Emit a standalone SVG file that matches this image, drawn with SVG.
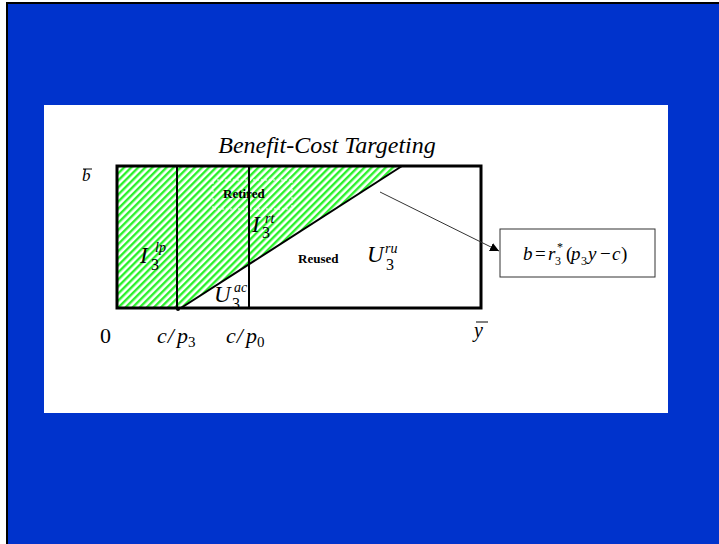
<svg xmlns="http://www.w3.org/2000/svg" width="719" height="544" viewBox="0 0 719 544">
<style>
.m{font-family:"Liberation Serif","Times New Roman",serif;font-style:italic;fill:#000}
.r{font-family:"Liberation Serif","Times New Roman",serif;fill:#000}
.b{font-family:"Liberation Serif","Times New Roman",serif;font-weight:bold;fill:#000}
.thick{stroke:#000;stroke-width:3;fill:none}
.thin{stroke:#000;stroke-width:2;fill:none}
</style>
<defs>
<pattern id="hatch" width="5" height="5" patternUnits="userSpaceOnUse" patternTransform="rotate(45)">
<rect width="5" height="5" fill="#fff"/>
<rect width="2.4" height="5" fill="#2BF22B"/>
</pattern>
<marker id="ah" viewBox="0 0 10 10" refX="10" refY="5" markerWidth="9" markerHeight="9" markerUnits="userSpaceOnUse" orient="auto">
<path d="M0,0 L10,5 L0,10 z" fill="#000"/>
</marker>
</defs>
<rect x="0" y="0" width="719" height="544" fill="#fff"/>
<rect x="6" y="2" width="713" height="542" fill="#000"/>
<rect x="8" y="4" width="711" height="540" fill="#0033CC"/>
<rect x="44" y="105" width="624" height="308" fill="#fff"/>
<text class="m" x="327" y="153" font-size="24" text-anchor="middle">Benefit-Cost Targeting</text>
<g id="regions">
<polygon points="117,166 402,166 181,308 117,308" fill="url(#hatch)"/>
<rect x="213" y="180" width="79" height="29" fill="none" stroke="#fff" stroke-width="1" stroke-dasharray="2,2"/>
</g>
<g id="frame">
<rect class="thick" x="117" y="166" width="364" height="142"/>
<line class="thin" x1="177" y1="166" x2="177" y2="308"/>
<line class="thin" x1="249" y1="166" x2="249" y2="308"/>
<line class="thin" x1="181" y1="308" x2="402" y2="166"/>
<circle cx="178" cy="309" r="2" fill="#000"/>
</g>
<g id="axis-labels">
<text class="m" x="82" y="181" font-size="17">b</text>
<line x1="83" y1="169" x2="92" y2="169" stroke="#000" stroke-width="1"/>
<text class="r" x="100" y="343" font-size="22">0</text>
<text class="m" x="157" y="343" font-size="22">c<tspan dx="1">/</tspan><tspan dx="3">p</tspan><tspan class="r" font-size="15" font-style="normal" dy="4">3</tspan></text>
<text class="m" x="226" y="343" font-size="22">c<tspan dx="1">/</tspan><tspan dx="3">p</tspan><tspan class="r" font-size="15" font-style="normal" dy="4">0</tspan></text>
<text class="m" x="474" y="337" font-size="20">y</text>
<line x1="476" y1="322" x2="488" y2="322" stroke="#000" stroke-width="1"/>
</g>
<g id="region-labels">
<text class="m" x="140" y="263" font-size="23">I</text>
<text class="r" x="151" y="270" font-size="16">3</text>
<text class="m" x="155" y="252" font-size="14">lp</text>
<text class="m" x="252" y="232" font-size="23">I</text>
<text class="r" x="262" y="238" font-size="16">3</text>
<text class="m" x="265" y="223" font-size="14">rt</text>
<text class="m" x="214" y="302" font-size="23">U</text>
<text class="r" x="232" y="309" font-size="16">3</text>
<text class="m" x="234" y="292" font-size="14">ac</text>
<text class="m" x="367" y="262" font-size="23">U</text>
<text class="r" x="386" y="270" font-size="16">3</text>
<text class="m" x="385" y="253" font-size="14">ru</text>
<text class="b" x="223" y="198" font-size="13">Retired</text>
<text class="b" x="298" y="263" font-size="13">Reused</text>
</g>
<g id="formula">
<rect x="500" y="229" width="155" height="48" fill="#fff" stroke="#333" stroke-width="1"/>
<text class="m" x="523" y="260" font-size="19">b</text>
<text class="r" x="535" y="260" font-size="19">=</text>
<text class="m" x="548" y="260" font-size="19">r</text>
<text class="r" x="555" y="265" font-size="12">3</text>
<text class="r" x="557" y="251" font-size="12">*</text>
<text class="r" x="566" y="260" font-size="19">(</text>
<text class="m" x="571" y="260" font-size="19">p</text>
<text class="r" x="581" y="265" font-size="12">3</text>
<text class="m" x="588" y="260" font-size="19">y</text>
<text class="r" x="600" y="260" font-size="19">−</text>
<text class="m" x="612" y="260" font-size="19">c</text>
<text class="r" x="621" y="260" font-size="19">)</text>
</g>
<g id="connectors">
<line x1="380" y1="192" x2="499" y2="251" stroke="#333" stroke-width="1" marker-end="url(#ah)"/>
</g>
</svg>
